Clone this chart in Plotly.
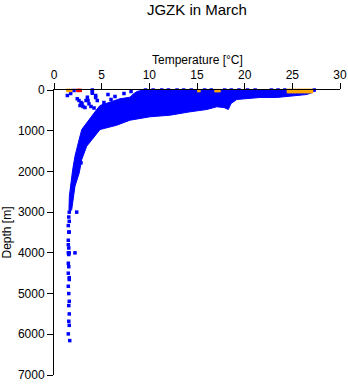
import plotly.graph_objects as go

# Dense part of the profile cloud: outline (temperature °C, depth m)
cloud_temp = [9.34, 8.71, 8.39, 7.97, 6.92, 5.87, 4.83, 4.54, 3.85, 3.33, 2.91, 2.55, 2.20, 1.96,
              1.75, 1.61, 1.57, 1.71, 1.86, 1.96, 2.20, 2.65, 2.91, 3.43, 4.12, 4.83, 6.58, 7.97,
              10.07, 12.17, 14.27, 16.02, 17.07, 17.83, 18.28, 18.57, 19.17, 21.6, 23.36, 25.1,
              26.51, 27.03, 27.48, 27.48, 20.0, 15.0, 9.34]
cloud_depth = [0, 37, 86, 177, 216, 300, 381, 462, 668, 830, 970, 1297, 1627, 1953,
               2280, 2609, 2936, 2985, 2936, 2771, 2364, 2034, 1708, 1381, 1174, 971, 865, 742,
               658, 619, 536, 479, 413, 430, 479, 332, 233, 184, 184, 152,
               111, 69, 5, 0, 0, 0, 0]

# Surface blue points along the top of the cloud
surf_temp = [9.6, 10.4, 11.3, 12.0, 12.9, 13.6, 14.4, 15.8, 16.5, 17.9, 18.6, 19.4, 20.3,
             21.1, 22.8, 23.5, 24.2, 27.3]
surf_depth = [0, 0, 0, 0, 0, 0, 0, 0, 0, 0, 0, 0, 0, 0, 0, 0, 0, 0]

# Isolated blue points (shallow scatter and the deep tail)
pts_temp = [2.1, 4.02, 4.02, 4.02, 1.4, 1.75, 2.44, 2.62, 2.83, 2.73, 2.94, 3.36, 3.57, 3.5,
            4.37, 4.37, 4.54, 3.04, 3.25, 3.67, 3.88, 4.2, 5.24, 5.24, 5.66, 5.98, 6.4, 7.34,
            7.03, 8.08, 2.83,
            1.6, 2.38, 1.55, 1.6, 1.5, 1.55, 1.6, 1.5, 1.5, 1.55, 1.5, 1.6, 1.55, 2.2, 1.5,
            1.55, 1.5, 1.6, 1.6, 1.5, 1.55, 1.6, 1.55, 1.6, 1.55, 1.6, 1.5, 1.65]
pts_depth = [12, 0, 40, 80, 135, 86, 216, 258, 307, 381, 332, 258, 258, 177,
             135, 184, 258, 405, 430, 339, 405, 442, 307, 381, 111, 233, 160, 86,
             258, 37, 1789,
             3000, 3000, 3120, 3225, 3330, 3490, 3490, 3690, 3800, 3880, 4000, 4000, 4040, 4000, 4255,
             4340, 4500, 4610, 4655, 4820, 5000, 5190, 5295, 5500, 5680, 5780, 5990, 6155]

# Orange surface points
orange_temp = [1.45, 1.75, 15.2, 17.0, 17.3, 24.6, 24.9, 25.2, 25.5, 25.8, 26.1, 26.4, 26.7, 27.0,
               24.6, 24.9, 25.2, 25.5, 25.8, 26.1, 26.4, 26.7, 27.0]
orange_depth = [10, 10, 15, 15, 15, 10, 10, 10, 10, 10, 10, 10, 10, 10,
                40, 40, 40, 40, 40, 40, 40, 40, 40]

# Red surface points
red_temp = [2.5, 2.75]
red_depth = [10, 10]

x_ticks = [0, 5, 10, 15, 20, 25, 30]
y_ticks = [0, 1000, 2000, 3000, 4000, 5000, 6000, 7000]

BLUE = "#0000FF"
FONT = "Liberation Sans, Arial, sans-serif"

fig = go.Figure()
fig.add_trace(go.Scatter(x=cloud_temp, y=cloud_depth, mode="lines", fill="toself",
                         fillcolor=BLUE, line=dict(color=BLUE, width=1), hoverinfo="skip"))
fig.add_trace(go.Scatter(x=surf_temp, y=surf_depth, mode="markers", cliponaxis=False,
                         marker=dict(symbol="square", size=3.5, color=BLUE, line=dict(width=0))))
fig.add_trace(go.Scatter(x=pts_temp, y=pts_depth, mode="markers", cliponaxis=False,
                         marker=dict(symbol="square", size=3.5, color=BLUE, line=dict(width=0))))
fig.add_trace(go.Scatter(x=orange_temp, y=orange_depth, mode="markers", cliponaxis=False,
                         marker=dict(symbol="square", size=3.5, color="#FFA500", line=dict(width=0))))
fig.add_trace(go.Scatter(x=red_temp, y=red_depth, mode="markers", cliponaxis=False,
                         marker=dict(symbol="square", size=3.5, color="#FF0000", line=dict(width=0))))

fig.update_layout(
    width=348, height=384,
    margin=dict(l=54, r=8, t=90, b=9, autoexpand=False),
    paper_bgcolor="white", plot_bgcolor="white",
    showlegend=False,
    font=dict(family=FONT, size=12, color="black"),
    title=dict(text="JGZK in March", x=0.566, xanchor="center", y=0.974, yanchor="middle",
               yref="container", font=dict(size=15, family=FONT, color="black")),
    annotations=[
        dict(text="Temperature [°C]", xref="paper", yref="paper", x=0.5, y=1.0,
             xanchor="center", yanchor="middle", yshift=30, showarrow=False,
             font=dict(size=12, family=FONT, color="black")),
    ],
)
fig.update_xaxes(side="top", range=[0, 30], tickvals=x_ticks, ticks="outside", ticklen=6,
                 tickcolor="black", showline=True, linecolor="black", linewidth=1,
                 showgrid=False, zeroline=False, mirror=False, automargin=False,
                 tickfont=dict(size=12), ticklabelstandoff=-1)
fig.update_yaxes(range=[7000, 0], tickvals=y_ticks, tickformat="d", ticks="outside", ticklen=6,
                 tickcolor="black", showline=True, linecolor="black", linewidth=1,
                 showgrid=False, zeroline=False, mirror=False, automargin=False,
                 tickfont=dict(size=12),
                 title=dict(text="Depth [m]", font=dict(size=12)))

fig.write_html("out.html", config={"displayModeBar": False},
               post_script="document.body.style.margin='0';")
